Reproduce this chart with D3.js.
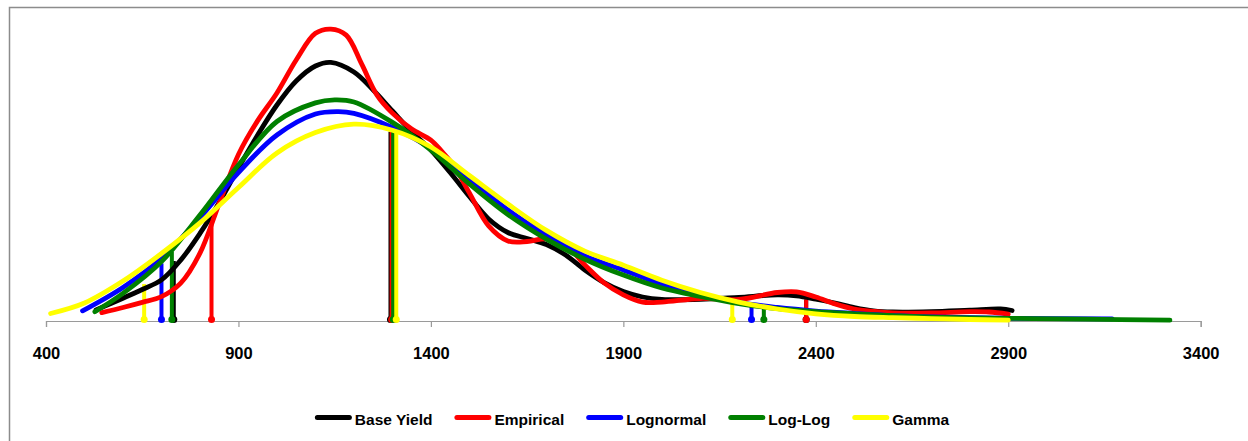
<!DOCTYPE html>
<html>
<head>
<meta charset="utf-8">
<script src="https://cdn.jsdelivr.net/npm/d3@7"></script>
<style>
  html, body { margin: 0; padding: 0; background: #fff; }
  svg { display: block; }
  text { font-family: "Liberation Sans", Arial, sans-serif; font-weight: bold; fill: #000; }
</style>
</head>
<body>
<svg id="chart" width="1248" height="441"></svg>
<script>
// ---------- data ----------
const xTicks = [400, 900, 1400, 1900, 2400, 2900, 3400];
const seriesNames = ["Base Yield", "Empirical", "Lognormal", "Log-Log", "Gamma"];
const seriesColors = ["#000000", "#ff0000", "#0000ff", "#008000", "#ffff00"];

// density curves: [yield, relative density]
const baseYield = [[530,0.37],[600,0.76],[650,1.05],[700,1.37],[750,2.03],[800,2.92],[850,3.95],[900,5.1],[950,6.2],[1000,7.2],[1050,8.0],[1100,8.5],[1140,8.62],[1200,8.3],[1250,7.7],[1300,7.0],[1350,6.31],[1400,5.7],[1450,4.95],[1500,4.15],[1550,3.4],[1600,2.95],[1650,2.75],[1700,2.55],[1750,2.2],[1800,1.7],[1850,1.28],[1900,0.98],[1950,0.8],[2000,0.72],[2100,0.72],[2200,0.79],[2300,0.87],[2350,0.84],[2400,0.73],[2450,0.6],[2500,0.45],[2550,0.34],[2600,0.3],[2700,0.31],[2800,0.36],[2880,0.4],[2910,0.35]];
const empirical = [[545,0.28],[600,0.45],[650,0.62],[700,0.81],[750,1.26],[800,2.26],[850,3.92],[900,5.55],[950,6.68],[1000,7.6],[1050,8.7],[1100,9.59],[1140,9.73],[1180,9.53],[1220,8.57],[1260,7.53],[1300,6.93],[1350,6.4],[1400,6.03],[1430,5.63],[1460,5.17],[1500,4.27],[1550,3.17],[1600,2.67],[1650,2.65],[1700,2.74],[1750,2.53],[1800,1.87],[1850,1.27],[1900,0.87],[1950,0.63],[2000,0.63],[2100,0.75],[2200,0.72],[2300,0.95],[2350,0.97],[2400,0.8],[2450,0.57],[2500,0.4],[2550,0.32],[2600,0.27],[2700,0.27],[2800,0.31],[2850,0.3],[2900,0.23]];
const lognormal = [[495,0.34],[600,1.12],[700,2.09],[800,3.45],[900,4.95],[1000,6.2],[1100,6.9],[1160,6.98],[1200,6.92],[1300,6.45],[1400,5.75],[1500,4.74],[1600,3.7],[1700,2.87],[1800,2.17],[1900,1.7],[2000,1.23],[2100,0.9],[2200,0.62],[2300,0.45],[2400,0.33],[2500,0.25],[2600,0.18],[2700,0.14],[2900,0.09],[3170,0.07]];
const logLog = [[527,0.31],[600,0.92],[700,1.98],[800,3.53],[900,5.2],[1000,6.65],[1100,7.27],[1150,7.37],[1200,7.3],[1300,6.62],[1400,5.7],[1500,4.57],[1600,3.55],[1700,2.73],[1800,2.06],[1900,1.53],[2000,1.1],[2100,0.82],[2200,0.58],[2300,0.41],[2400,0.31],[2500,0.24],[2600,0.18],[2700,0.13],[2900,0.09],[3100,0.06],[3320,0.03]];
const gamma = [[412,0.25],[500,0.6],[600,1.33],[700,2.25],[800,3.27],[900,4.45],[1000,5.6],[1100,6.28],[1200,6.56],[1300,6.36],[1400,5.8],[1500,4.85],[1600,3.9],[1700,3.02],[1800,2.33],[1900,1.86],[2000,1.36],[2100,0.95],[2200,0.63],[2300,0.4],[2400,0.24],[2500,0.15],[2600,0.11],[2700,0.08],[2800,0.05],[2900,0.03]];

// percentile marker lines: [yield, height]
const baseYieldMarks = [[732,2.0],[1295,6.31],[2375,0.7]];
const empiricalMarks = [[830,3.6],[1298,6.31],[2375,0.73]];
const lognormalMarks = [[700,1.92],[1306,6.31],[2233,0.48]];
const logLogMarks = [[727,2.31],[1302,6.31],[2265,0.43]];
const gammaMarks = [[655,1.23],[1310,6.31],[2183,0.6]];

const curves = [baseYield, empirical, lognormal, logLog, gamma];
const marks = [baseYieldMarks, empiricalMarks, lognormalMarks, logLogMarks, gammaMarks];

// ---------- drawing ----------
const svg = d3.select("#chart");
const x = d3.scaleLinear().domain([400, 3400]).range([46, 1200.7]);
const y = d3.scaleLinear().domain([0, 10]).range([321, 21]);

// chart frame (left and top edges visible)
svg.append("path")
  .attr("d", "M9.5,441V7.5H1248")
  .attr("fill", "none").attr("stroke", "#8c8c8c").attr("stroke-width", 1.5);

// axis
const axis = svg.append("g").attr("transform", `translate(0,${y(0)})`)
  .call(d3.axisBottom(x).tickValues(xTicks).tickSize(6).tickFormat(d => d));
axis.selectAll("path, line").attr("stroke", "#9a9a9a").attr("stroke-width", 1.2);
axis.selectAll("text")
  .attr("y", 26).attr("dy", "0.71em")
  .style("font-family", '"Liberation Sans", Arial, sans-serif')
  .style("font-weight", "bold").style("font-size", "16.5px").attr("fill", "#000");

// marker lines
marks.forEach((m, i) => {
  const g = svg.append("g");
  g.selectAll("line").data(m).join("line")
    .attr("x1", d => x(d[0])).attr("x2", d => x(d[0]))
    .attr("y1", y(0)).attr("y2", d => y(d[1]))
    .attr("stroke", seriesColors[i]).attr("stroke-width", 4);
  g.selectAll("circle").data(m).join("circle")
    .attr("cx", d => x(d[0])).attr("cy", y(0) - 1.5).attr("r", 3.5)
    .attr("fill", seriesColors[i]);
});

// curves
const line = d3.line().x(d => x(d[0])).y(d => y(d[1])).curve(d3.curveCatmullRom.alpha(0.5));
curves.forEach((c, i) => {
  svg.append("path").datum(c)
    .attr("d", line)
    .attr("fill", "none")
    .attr("stroke", seriesColors[i])
    .attr("stroke-width", 4.8)
    .attr("stroke-linecap", "round")
    .attr("stroke-linejoin", "round");
});

// legend
const legend = svg.append("g");
const items = legend.selectAll("g").data(seriesNames).join("g");
items.append("line")
  .attr("x1", 2.5).attr("x2", 34.5).attr("y1", 417.5).attr("y2", 417.5)
  .attr("stroke", (d, i) => seriesColors[i]).attr("stroke-width", 5).attr("stroke-linecap", "round");
items.append("text")
  .attr("x", 40).attr("y", 425)
  .style("font-size", "15.5px")
  .text(d => d);
const gap = 22;
const widths = [];
items.each(function() {
  const w = 40 + d3.select(this).select("text").node().getComputedTextLength();
  widths.push(w);
});
const total = d3.sum(widths) + gap * (widths.length - 1);
let start = 632 - total / 2;
items.attr("transform", (d, i) => {
  const t = `translate(${start},0)`;
  start += widths[i] + gap;
  return t;
});
</script>
</body>
</html>
